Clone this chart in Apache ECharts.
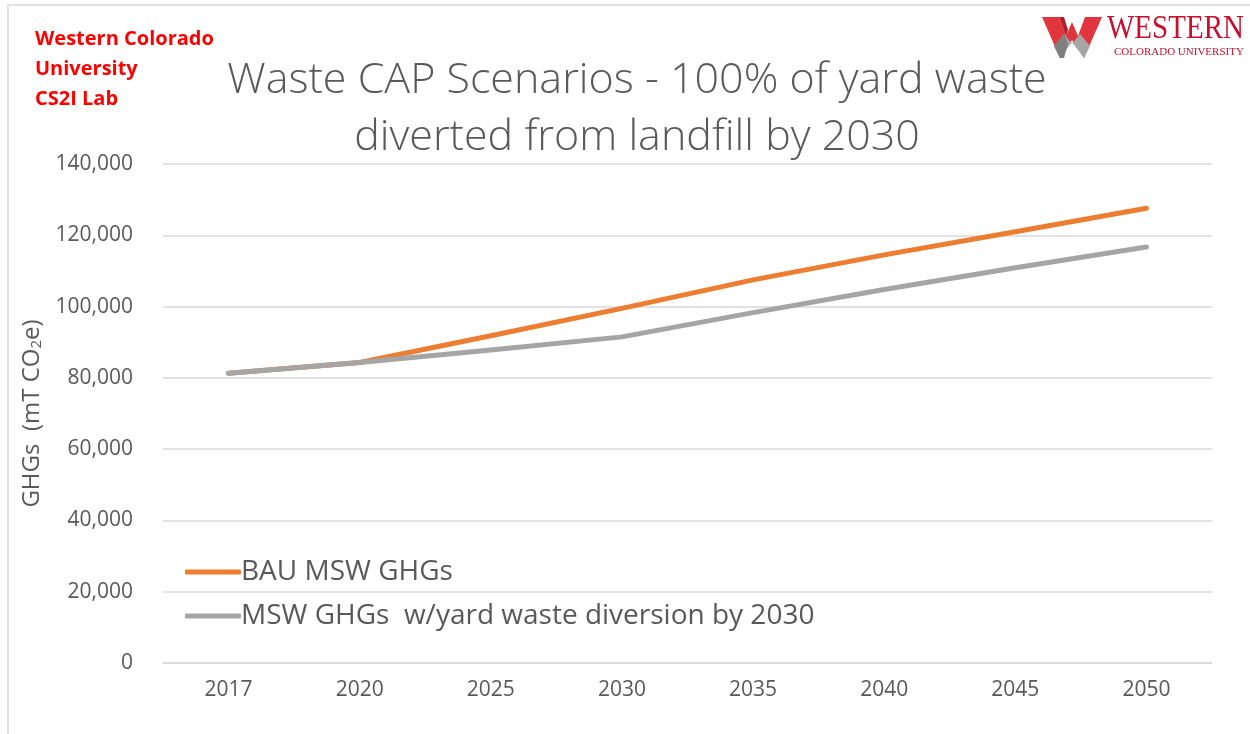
<!DOCTYPE html>
<html>
<head>
<meta charset="utf-8">
<script src="https://cdn.jsdelivr.net/npm/echarts@6/dist/echarts.min.js"></script>
<style>
  html, body { margin: 0; padding: 0; background: #fff; }
  #chart { width: 1250px; height: 734px; }
</style>
</head>
<body>
<div id="chart"></div>
<script>
// data
const years = ["2017", "2020", "2025", "2030", "2035", "2040", "2045", "2050"];
const bauValues = [81300, 84300, 91800, 99500, 107500, 114500, 121000, 127600];
const divertValues = [81300, 84300, 87800, 91500, 98300, 104800, 110900, 116700];
const seriesNames = ["BAU MSW GHGs", "MSW GHGs  w/yard waste diversion by 2030"];

const textGrey = "#595959";
const chart = echarts.init(document.getElementById("chart"));

chart.setOption({
  animation: false,
  textStyle: { fontFamily: "Open Sans" },
  title: {
    text: "Waste CAP Scenarios - 100% of yard waste\ndiverted from landfill by 2030",
    left: 632,
    top: 47,
    textAlign: "center",
    textStyle: { fontSize: 43, fontWeight: 300, color: textGrey, lineHeight: 57, fontFamily: "Open Sans" }
  },
  legend: {
    orient: "vertical",
    left: 180,
    top: 553,
    itemWidth: 56,
    itemHeight: 5,
    itemGap: 16,
    icon: "roundRect",
    textStyle: { fontSize: 28, color: textGrey, padding: [0, 0, 0, -5] },
    data: seriesNames
  },
  grid: { left: 163, right: 38, top: 164, bottom: 71 },
  xAxis: {
    type: "category",
    data: years,
    boundaryGap: true,
    axisLine: { show: true, lineStyle: { color: "#d9d9d9", width: 1.5 } },
    axisTick: { show: false },
    axisLabel: { fontSize: 21, color: textGrey, margin: 17 }
  },
  yAxis: {
    type: "value",
    min: 0,
    max: 140000,
    interval: 20000,
    name: "GHGs  (mT CO{sub|2}e)",
    nameLocation: "middle",
    nameGap: 116,
    nameRotate: 90,
    nameTextStyle: {
      fontSize: 24, color: textGrey,
      rich: { sub: { fontSize: 15, color: textGrey, verticalAlign: "bottom", padding: [9, 0, 0, 0] } }
    },
    axisLine: { show: false },
    axisTick: { show: false },
    splitLine: { lineStyle: { color: "#d9d9d9", width: 1.5 } },
    axisLabel: {
      fontSize: 21, color: textGrey, margin: 30,
      formatter: (v) => v.toLocaleString("en-US")
    }
  },
  series: [
    {
      name: seriesNames[0],
      type: "line",
      data: bauValues,
      symbol: "none",
      color: "#ED7D31",
      lineStyle: { width: 5, cap: "round", join: "round" }
    },
    {
      name: seriesNames[1],
      type: "line",
      data: divertValues,
      symbol: "none",
      color: "#A5A5A5",
      lineStyle: { width: 5, cap: "round", join: "round" }
    }
  ],
  graphic: [
    // outer frame
    { type: "rect", shape: { x: 8, y: 5, width: 1250, height: 740 }, style: { fill: "none", stroke: "#d9d9d9", lineWidth: 1.5 } },
    // lab label
    {
      type: "text", left: 35, top: 24,
      style: { text: "Western Colorado\nUniversity\nCS2I Lab", fill: "#ff0000", font: "bold 20px 'Open Sans'", lineHeight: 30 }
    },
    // logo W
    {
      type: "polygon",
      shape: { points: [[1042, 17], [1059, 17], [1066, 36], [1072, 22], [1078, 36], [1085, 17], [1102, 17], [1084, 58], [1072, 40], [1060, 58]] },
      style: { fill: "#e0353d" }
    },
    {
      type: "polygon",
      shape: { points: [[1059, 17], [1064, 17], [1068, 30], [1066, 36]] },
      style: { fill: "#b51e28" }
    },
    {
      type: "polygon",
      shape: { points: [[1054, 46], [1064, 34], [1072, 44], [1080, 34], [1090, 46], [1084, 58], [1072, 42], [1060, 58]] },
      style: { fill: "#a6a6a6" }
    },
    {
      type: "polygon",
      shape: { points: [[1064, 34], [1068, 44], [1064, 58], [1060, 58], [1054, 46]] },
      style: { fill: "#7f7f7f" }
    },
    {
      type: "text", x: 1107, y: 13, scaleY: 1.15,
      style: { text: "WESTERN", fill: "#c8102e", font: "29px 'Liberation Serif'" }
    },
    {
      type: "text", left: 1114, top: 47,
      style: { text: "COLORADO UNIVERSITY", fill: "#c8102e", font: "11px 'Liberation Serif'" }
    }
  ]
});
</script>
</body>
</html>
